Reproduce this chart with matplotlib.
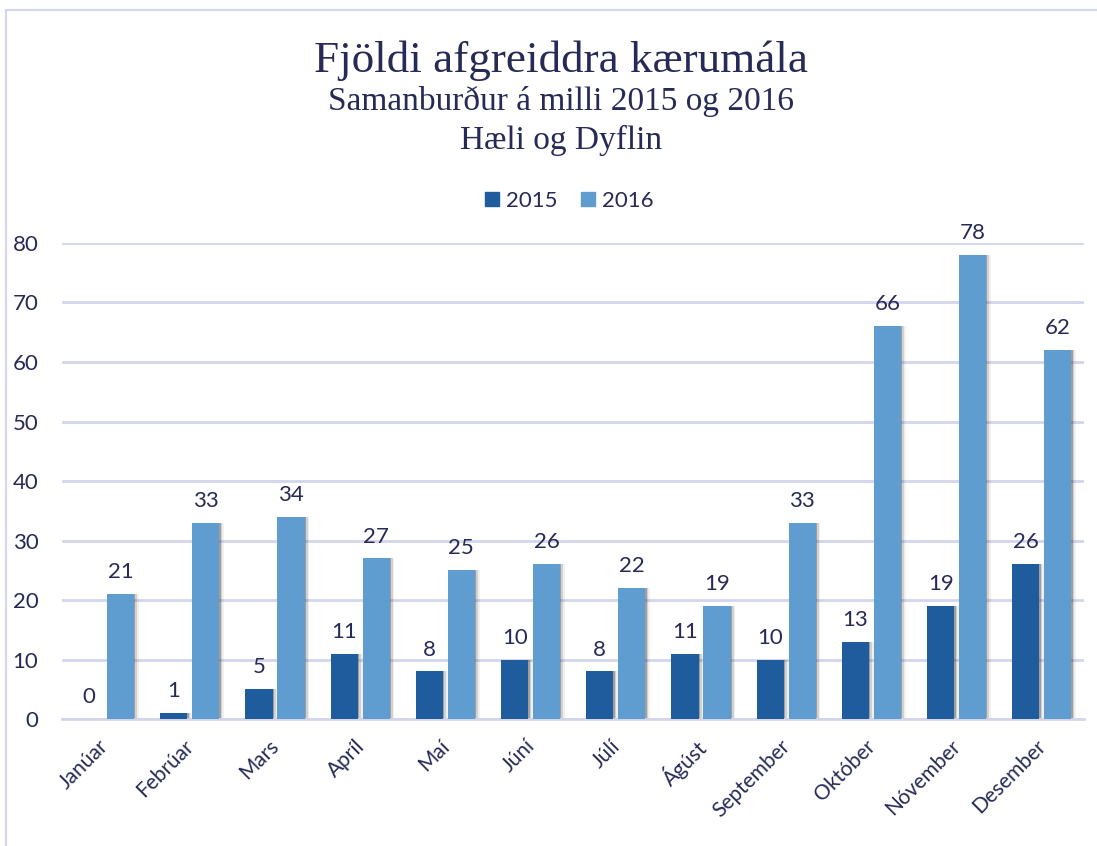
import numpy as np
import matplotlib.pyplot as plt
from matplotlib.lines import Line2D
from matplotlib.transforms import ScaledTranslation

months = ["Janúar", "Febrúar", "Mars", "Apríl", "Maí", "Júní", "Júlí",
          "Ágúst", "September", "Október", "Nóvember", "Desember"]
y2015 = [0, 1, 5, 11, 8, 10, 8, 11, 10, 13, 19, 26]
y2016 = [21, 33, 34, 27, 25, 26, 22, 19, 33, 66, 78, 62]

navy = "#262a55"
c15 = "#1f5c9e"
c16 = "#5f9dd1"
gridc = "#d3d5ec"

plt.rcParams['font.family'] = ['Lato', 'DejaVu Sans']

fig = plt.figure(figsize=(10.97, 8.46), dpi=100)
ax = fig.add_axes([0.0565, 0.150, 0.932, 0.5628])

x = np.arange(len(months))
w = 0.32
off = 0.1875

# soft shadow to the right of each bar
for dx, a in [(0.015, 0.35), (0.035, 0.18), (0.055, 0.08)]:
    ax.bar(x - off + dx, y2015, w, color="#444444", alpha=a, zorder=2, linewidth=0)
    ax.bar(x + off + dx, y2016, w, color="#444444", alpha=a, zorder=2, linewidth=0)

ax.bar(x - off, y2015, w, color=c15, zorder=3, linewidth=0)
ax.bar(x + off, y2016, w, color=c16, zorder=3, linewidth=0)

for xi, v in zip(x, y2015):
    ax.text(xi - off, v + 2.0, str(v), ha="center", va="bottom", fontsize=16,
            color=navy, zorder=4)
for xi, v in zip(x, y2016):
    ax.text(xi + off, v + 2.0, str(v), ha="center", va="bottom", fontsize=16,
            color=navy, zorder=4, clip_on=False)

ax.set_xlim(-0.5, 11.5)
ax.set_ylim(0, 80)
ax.set_yticks(range(0, 81, 10))
ax.yaxis.grid(True, color=gridc, linewidth=2, zorder=0)
ax.set_axisbelow(True)
for s in ["top", "right", "left"]:
    ax.spines[s].set_visible(False)
ax.spines["bottom"].set_color(gridc)
ax.spines["bottom"].set_linewidth(2)
ax.tick_params(axis="both", length=0, colors=navy, labelsize=16)
ax.tick_params(axis="y", pad=17)
ax.set_xticks(x)
ax.set_xticklabels(months, rotation=45, ha="right", rotation_mode="anchor",
                   fontsize=15)
ax.tick_params(axis="x", pad=12)
shift = ScaledTranslation(-6 / 100, 0, fig.dpi_scale_trans)
for lab in ax.get_xticklabels():
    lab.set_transform(lab.get_transform() + shift)

fig.text(0.511, 0.928, "Fjöldi afgreiddra kærumála", ha="center", va="center",
         fontsize=32.5, color=navy, family="Liberation Serif")
fig.text(0.511, 0.880, "Samanburður á milli 2015 og 2016", ha="center", va="center",
         fontsize=24, color=navy, family="Liberation Serif")
fig.text(0.511, 0.834, "Hæli og Dyflin", ha="center", va="center",
         fontsize=24, color=navy, family="Liberation Serif")

handles = [Line2D([], [], marker="s", linestyle="", markersize=10, color=c15),
           Line2D([], [], marker="s", linestyle="", markersize=10, color=c16)]
fig.legend(handles, ["2015", "2016"], loc="center", bbox_to_anchor=(0.518, 0.763),
           ncol=2, frameon=False, fontsize=16, labelcolor=navy,
           handletextpad=0.2, columnspacing=1.0, handlelength=0.8)

# chart frame
fig.add_artist(Line2D([0.0055, 1.0], [0.988, 0.988], color=gridc, linewidth=1.5))
fig.add_artist(Line2D([0.0055, 0.0055], [0.0, 0.988], color=gridc, linewidth=1.5))

fig.savefig("out.png", dpi=100)
